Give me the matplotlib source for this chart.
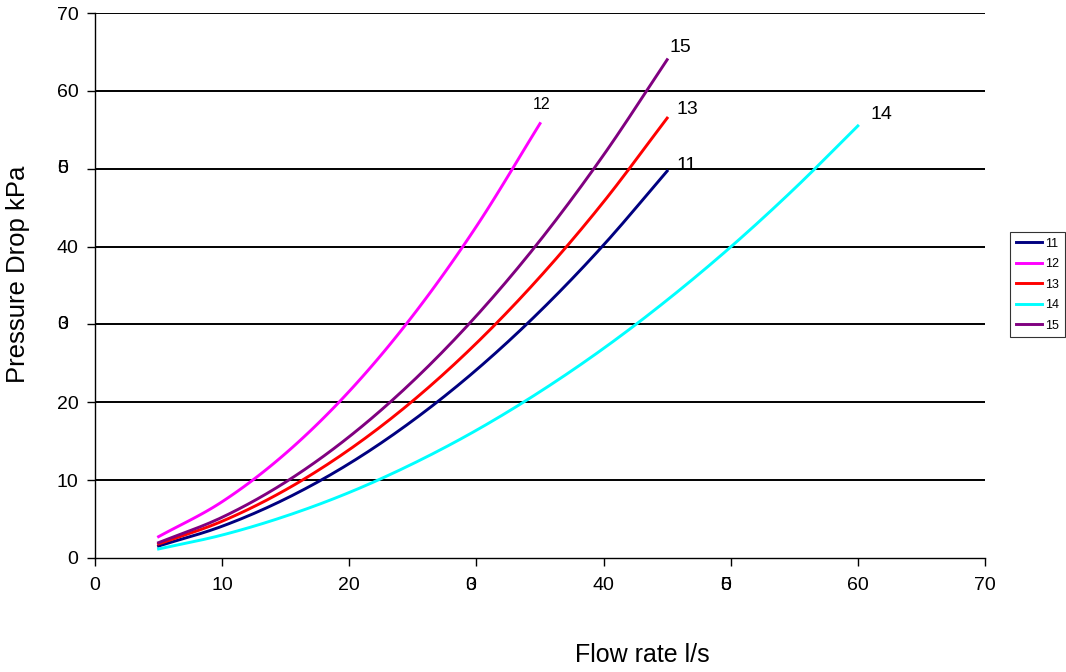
import matplotlib
matplotlib.use("Agg")
import matplotlib.pyplot as plt
import numpy as np

plt.rcParams["font.family"] = ["Liberation Sans", "DejaVu Sans"]

# -----------------------------
# Data (flow l/s -> pressure drop kPa)
# -----------------------------
flow_11 = [5, 10, 15, 20, 25, 30, 35, 40, 45]
dp_11 = [1.54, 4.08, 7.61, 12.13, 17.66, 24.17, 31.69, 40.2, 49.7]

flow_12 = [5, 10, 15, 20, 25, 30, 35]
dp_12 = [2.74, 7.23, 13.45, 21.42, 31.14, 42.6, 55.8]

flow_13 = [5, 10, 15, 20, 25, 30, 35, 40, 45]
dp_13 = [1.8, 4.72, 8.76, 13.92, 20.19, 27.59, 36.11, 45.74, 56.5]

flow_14 = [5, 10, 15, 20, 25, 30, 35, 40, 45, 50, 55, 60]
dp_14 = [1.16, 2.95, 5.38, 8.42, 12.11, 16.41, 21.36, 26.92, 33.13, 39.95, 47.42, 55.5]

flow_15 = [5, 10, 15, 20, 25, 30, 35, 40, 45]
dp_15 = [1.97, 5.23, 9.76, 15.59, 22.71, 31.11, 40.78, 51.76, 64.0]

series_names = ["11", "12", "13", "14", "15"]
series_flow = [flow_11, flow_12, flow_13, flow_14, flow_15]
series_dp = [dp_11, dp_12, dp_13, dp_14, dp_15]
colors = ["#000080", "#FF00FF", "#FF0000", "#00FFFF", "#800080"]

# end label offsets (points) and sizes
label_offsets = [(6.5, 4), (-5, 13.5), (6.5, 6.5), (9.4, 8), (1.5, 9)]
label_sizes = [14, 11.5, 14, 14, 14]

tick_vals = [0, 10, 20, 30, 40, 50, 60, 70]
# the reference shows 30 and 50 with both digits printed on top of each other
glitch_ticks = [30, 50]


def smooth_line(xs, ys, steps=20):
    # Catmull-Rom curve through the points, like a spreadsheet "smoothed line"
    p = np.column_stack([xs, ys]).astype(float)
    p = np.vstack([2 * p[0] - p[1], p, 2 * p[-1] - p[-2]])
    out = []
    t = np.linspace(0, 1, steps, endpoint=False)[:, None]
    for i in range(1, len(p) - 2):
        p0, p1, p2, p3 = p[i - 1], p[i], p[i + 1], p[i + 2]
        seg = 0.5 * (2 * p1 + (-p0 + p2) * t
                     + (2 * p0 - 5 * p1 + 4 * p2 - p3) * t ** 2
                     + (-p0 + 3 * p1 - 3 * p2 + p3) * t ** 3)
        out.append(seg)
    out.append(p[-2][None, :])
    out = np.vstack(out)
    return out[:, 0], out[:, 1]


# -----------------------------
# Plot
# -----------------------------
fig = plt.figure(figsize=(10.66, 6.72), dpi=100)
ax = fig.add_axes([95 / 1066, 1 - 558 / 672, 890 / 1066, 545 / 672])

ax.set_xlim(0, 70)
ax.set_ylim(0, 70)
ax.set_xticks(tick_vals)
ax.set_yticks(tick_vals)
ax.set_xticklabels(["" if t in glitch_ticks else str(t) for t in tick_vals])
ax.set_yticklabels(["" if t in glitch_ticks else str(t) for t in tick_vals])

for t in tick_vals[1:]:
    ax.axhline(t, color="black", lw=1.4, zorder=1)

for name, fx, dp, c in zip(series_names, series_flow, series_dp, colors):
    sx, sy = smooth_line(fx, dp)
    ax.plot(sx, sy, color=c, lw=2.1, label=name, zorder=3)

for name, fx, dp, off, fs in zip(series_names, series_flow, series_dp,
                                 label_offsets, label_sizes):
    ax.annotate(name, xy=(fx[-1], dp[-1]), xytext=off, textcoords="offset points",
                ha="left", va="center", fontsize=fs)

for s in ["top", "right"]:
    ax.spines[s].set_visible(False)
for s in ["left", "bottom"]:
    ax.spines[s].set_linewidth(1.0)
    ax.spines[s].set_zorder(4)

tick_fs = 14
ax.tick_params(axis="both", direction="out", length=6, width=1, labelsize=tick_fs,
               color="black")
ax.tick_params(axis="y", pad=5.8)
ax.tick_params(axis="x", pad=8)

digit_w = 0.556 * tick_fs
for t in glitch_ticks:
    for ch in str(t):
        ax.annotate(ch, xy=(0, t), xycoords=("axes fraction", "data"),
                    xytext=(-(6 + 5.8 + 2 * digit_w), 0), textcoords="offset points",
                    ha="left", va="center", fontsize=tick_fs)
        ax.annotate(ch, xy=(t, 0), xycoords=("data", "axes fraction"),
                    xytext=(-digit_w, -(6 + 8)), textcoords="offset points",
                    ha="left", va="top", fontsize=tick_fs)

ax.set_xlabel("Flow rate l/s", fontsize=18, va="center")
ax.xaxis.set_label_coords((642 - 95) / 890, -(655 - 558) / 545)
ax.set_ylabel("Pressure Drop kPa", fontsize=18.5, va="center")
ax.yaxis.set_label_coords((18 - 95) / 890, (558 - 274) / 545)

leg = ax.legend(loc="upper left", bbox_to_anchor=(1010 / 1066, 1 - 232 / 672),
                bbox_transform=fig.transFigure, fontsize=9, frameon=True,
                fancybox=False, edgecolor="black", handlelength=2.1,
                handletextpad=0.25, labelspacing=0.68, borderpad=0.45,
                borderaxespad=0)
leg.get_frame().set_linewidth(0.8)

fig.savefig("out.png", dpi=100)
